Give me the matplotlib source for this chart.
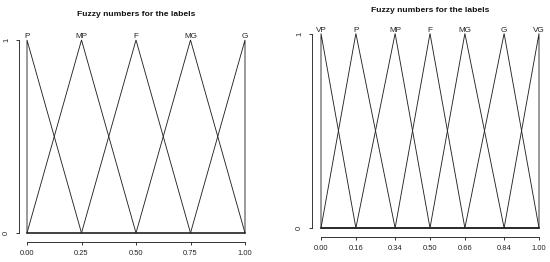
import matplotlib
matplotlib.use("Agg")
import matplotlib.pyplot as plt

# Data
left_labels = ["P", "MP", "F", "MG", "G"]
left_peaks = [0.00, 0.25, 0.50, 0.75, 1.00]
left_ticks = [0.00, 0.25, 0.50, 0.75, 1.00]
left_ticklabels = ["0.00", "0.25", "0.50", "0.75", "1.00"]

right_labels = ["VP", "P", "MP", "F", "MG", "G", "VG"]
right_peaks = [0.00, 0.16, 0.34, 0.50, 0.66, 0.84, 1.00]
right_ticks = [0.00, 0.16, 0.34, 0.50, 0.66, 0.84, 1.00]
right_ticklabels = ["0.00", "0.16", "0.34", "0.50", "0.66", "0.84", "1.00"]

title = "Fuzzy numbers for the labels"

W, H = 550, 262
DPI = 100
fig = plt.figure(figsize=(W / DPI, H / DPI), dpi=DPI)
plt.rcParams['font.family'] = ['Liberation Sans', 'DejaVu Sans']

px2pt = 72.0 / DPI
LW = 0.8 * px2pt * 1.1
COL = "#222222"


def make_panel(x0, x1, y1px, y0px, peaks, labels, ticks, ticklabels, yaxis_px, xaxis_px, title_y):
    ax = fig.add_axes([x0 / W, (H - y0px) / H, (x1 - x0) / W, (y0px - y1px) / H])
    ax.set_xlim(0, 1)
    ax.set_ylim(0, 1)
    ax.patch.set_alpha(0)
    n = len(peaks)
    for i in range(n):
        a = peaks[i - 1] if i > 0 else peaks[i]
        b = peaks[i]
        c = peaks[i + 1] if i < n - 1 else peaks[i]
        xs = [0.0, a, b, c, 1.0]
        ys = [0.0, 0.0, 1.0, 0.0, 0.0]
        ax.plot(xs, ys, color=COL, lw=LW, clip_on=False, solid_joinstyle='miter')
        ax.text(b, 1.0, labels[i], ha='center', va='bottom', fontsize=5.9,
                color=COL, transform=ax.transData)
    for s in ['top', 'right']:
        ax.spines[s].set_visible(False)
    ax.spines['left'].set_position(('outward', (x0 - yaxis_px) * px2pt))
    ax.spines['bottom'].set_position(('outward', (xaxis_px - y0px) * px2pt))
    ax.spines['left'].set_bounds(0, 1)
    ax.spines['bottom'].set_bounds(0, 1)
    for s in ['left', 'bottom']:
        ax.spines[s].set_linewidth(LW)
        ax.spines[s].set_color(COL)
    ax.set_xticks(ticks)
    ax.set_xticklabels(ticklabels)
    ax.set_yticks([0, 1])
    ax.set_yticklabels(["0", "1"], rotation=90, va='center')
    ax.tick_params(direction='out', length=3 * px2pt, width=LW, color=COL,
                   labelsize=5.4, labelcolor=COL, pad=5 * px2pt)
    ax.tick_params(axis='y', pad=6 * px2pt)
    fig.text(((x0 + x1) / 2) / W, 1 - title_y / H, title, ha='center', va='center',
             fontsize=6.1, fontweight='bold', color='#111111')
    return ax


make_panel(27, 245, 40, 233, left_peaks, left_labels, left_ticks, left_ticklabels,
           19, 242, 15)
make_panel(321, 539, 33.5, 228, right_peaks, right_labels, right_ticks, right_ticklabels,
           312, 237, 10)

fig.savefig("out.png", dpi=DPI)
